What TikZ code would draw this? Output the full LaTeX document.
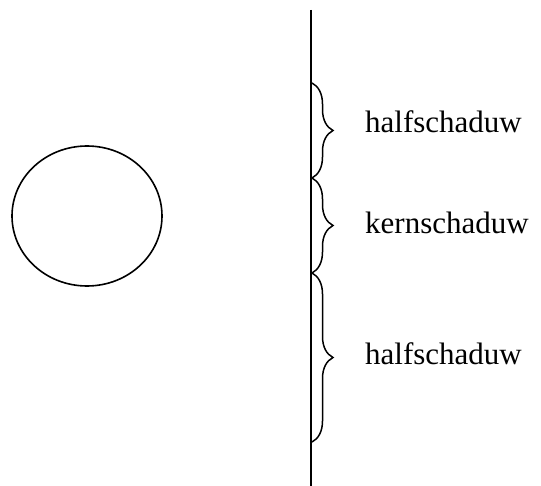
\documentclass[tikz,border=0pt]{standalone}
\usepackage{fontspec}
\setmainfont{Liberation Serif}
\usetikzlibrary{decorations.pathreplacing}

\tikzset{
  accolade/.style={decorate, decoration={brace, amplitude=21pt}, line width=1.5pt},
  schaduw/.style={anchor=base west, inner sep=0pt, font=\fontsize{31}{33}\selectfont}
}

\begin{document}
\begin{tikzpicture}[x=1pt, y=-1pt]
  \useasboundingbox (0,0) rectangle (541,486);

  % Object
  \draw[line width=1.6pt] (87,216) ellipse [x radius=75, y radius=70];

  % Screen
  \coordinate (top) at (311,10);
  \coordinate (bottom) at (311,486);
  \draw[line width=1.6pt] (top) -- (bottom);

  % Shadow regions
  \coordinate (s0) at (312,83);
  \coordinate (s1) at (312,178);
  \coordinate (s2) at (312,273);
  \coordinate (s3) at (312,442);
  \draw[accolade] (s0) -- (s1);
  \draw[accolade] (s1) -- (s2);
  \draw[accolade] (s2) -- (s3);

  % Labels
  \node[schaduw] (half1) at (365,133) {halfschaduw};
  \node[schaduw] (kern) at (365,234) {kernschaduw};
  \node[schaduw] (half2) at (365,364) {halfschaduw};
\end{tikzpicture}
\end{document}
